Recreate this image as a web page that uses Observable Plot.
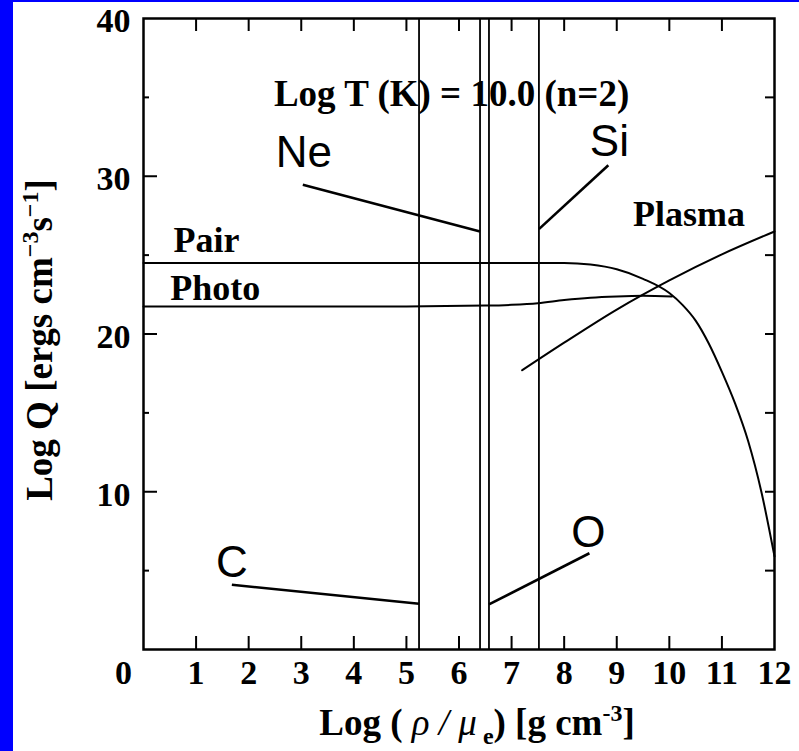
<!DOCTYPE html>
<html><head><meta charset="utf-8">
<script src="https://cdn.jsdelivr.net/npm/d3@7"></script>
<script src="https://cdn.jsdelivr.net/npm/@observablehq/plot@0.6"></script>
<style>
html,body{margin:0;padding:0;background:#0000ff;width:799px;height:751px;overflow:hidden}
#chart{position:absolute;left:13px;top:2px;width:786px;height:749px;background:#fff}
#chart svg{display:block;background:#fff;overflow:visible}
</style></head><body><div id="chart"></div>
<script>
// ---- data ----
const pairX = [0, 8, 8.5, 9, 9.5, 10, 10.25, 10.5, 10.75, 11, 11.25, 11.5, 11.75, 12];
const pairY = [24.5, 24.5, 24.4, 24.1, 23.5, 22.6, 21.85, 20.85, 19.4, 17.6, 15.6, 13.2, 10.0, 5.9];
const photoX = [0, 5, 6.5, 7, 7.5, 8, 8.5, 9, 9.5, 10.05];
const photoY = [21.75, 21.75, 21.8, 21.85, 21.95, 22.15, 22.3, 22.38, 22.42, 22.38];
const plasmaX = [7.2, 8, 9, 10, 11, 12];
const plasmaY = [17.7, 19.45, 21.55, 23.4, 25.05, 26.5];

const elements = ["C", "Ne", "O", "Si"];
const elementRho = [5.24, 6.40, 6.57, 7.52];
const elementLabelX = [1.68, 3.05, 8.46, 8.86];
const elementLabelY = [5.46, 31.45, 7.37, 32.2];
const leaderX = [1.68, 3.03, 8.48, 8.84];
const leaderY = [4.1, 29.46, 6.1, 30.7];
const leaderEndY = [2.9, 26.5, 2.86, 26.65];

const curveNames = ["Pair", "Photo", "Plasma"];
const curveLabelX = [0.57, 0.51, 9.31];
const curveLabelY = [25.95, 22.9, 27.6];

const annotation = "Log T (K) = 10.0 (n=2)";
const annotationX = 2.48, annotationY = 35.2;

const xTickLabels = [1,2,3,4,5,6,7,8,9,10,11,12];
const xZeroLabel = [0];
const xInnerTicks = [1,2,3,4,5,6,7,8,9,10,11];
const yTickLabels = [10, 20, 30, 40];
const yMajorTicks = [10, 20, 30];
const yMinorTicks = [5, 15, 25, 35];
const yRightTicks = [5, 10, 15, 20, 25, 30, 35];
const xTitle = "Log ( ρ / μe) [g cm-3]";
const yTitle = "Log Q [ergs cm-3s-1]";

// ---- tables ----
const toRows = (xs, ys) => xs.map((x, i) => ({x, y: ys[i]}));
const pair = toRows(pairX, pairY);
const photo = toRows(photoX, photoY);
const plasma = toRows(plasmaX, plasmaY);
const elems = elements.map((e, i) => ({e, rho: elementRho[i], lx: elementLabelX[i], ly: elementLabelY[i], x1: leaderX[i], y1: leaderY[i], y2: leaderEndY[i]}));
const curveLabels = curveNames.map((n, i) => ({n, x: curveLabelX[i], y: curveLabelY[i]}));

const serif = "'Liberation Serif', 'Times New Roman', serif";
const sans = "'Liberation Sans', Arial, sans-serif";
const tickFont = {fontFamily: serif, fontWeight: "bold", fontSize: 34, fill: "#000"};
const blank = () => "";

const chart = Plot.plot({
  width: 786, height: 749,
  marginLeft: 130, marginRight: 25, marginTop: 16, marginBottom: 102,
  x: {domain: [0, 12]},
  y: {domain: [0, 40]},
  style: {background: "#fff", color: "#000", fontFamily: serif, overflow: "visible"},
  marks: [
    Plot.text([annotation], {x: annotationX, y: annotationY, text: d => d, textAnchor: "start", fontFamily: serif, fontWeight: "bold", fontSize: 37, fill: "#000"}),
    Plot.text(curveLabels, {x: "x", y: "y", text: "n", textAnchor: "start", fontFamily: serif, fontWeight: "bold", fontSize: 36, fill: "#000"}),
    Plot.line(pair, {x: "x", y: "y", curve: "monotone-x", stroke: "#000", strokeWidth: 2}),
    Plot.line(photo, {x: "x", y: "y", curve: "monotone-x", stroke: "#000", strokeWidth: 2}),
    Plot.line(plasma, {x: "x", y: "y", curve: "monotone-x", stroke: "#000", strokeWidth: 2}),
    Plot.ruleX(elems, {x: "rho", stroke: "#000", strokeWidth: 1.8}),
    Plot.link(elems, {x1: "x1", y1: "y1", x2: "rho", y2: "y2", stroke: "#000", strokeWidth: 2.6}),
    Plot.text(elems, {x: "lx", y: "ly", text: "e", fontFamily: sans, fontSize: 44, fill: "#000"}),
    // ticks (inward): outward ticks shifted into the frame
    Plot.axisX({anchor: "bottom", ticks: xInnerTicks, tickSize: 13, dy: -13, tickFormat: blank, label: null, strokeWidth: 2}),
    Plot.axisX({anchor: "top", ticks: xInnerTicks, tickSize: 12, dy: 12, tickFormat: blank, label: null, strokeWidth: 2}),
    Plot.axisY({anchor: "left", ticks: yMajorTicks, tickSize: 14, dx: 14, tickFormat: blank, label: null, strokeWidth: 2}),
    Plot.axisY({anchor: "left", ticks: yMinorTicks, tickSize: 6, dx: 6, tickFormat: blank, label: null, strokeWidth: 2}),
    Plot.axisY({anchor: "right", ticks: yRightTicks, tickSize: 10, dx: -10, tickFormat: blank, label: null, strokeWidth: 2}),
    // tick labels
    Plot.axisX({anchor: "bottom", ticks: xTickLabels, tickSize: 0, tickPadding: 10, label: null, ...tickFont}),
    Plot.axisX({anchor: "bottom", ticks: xZeroLabel, tickSize: 0, tickPadding: 10, dx: -20, label: null, ...tickFont}),
    Plot.axisY({anchor: "left", ticks: yTickLabels, tickSize: 0, tickPadding: 13, dy: 3, label: null, ...tickFont}),
    // axis titles
    Plot.text([xTitle], {frameAnchor: "bottom", textAnchor: "middle", lineAnchor: "middle", dy: 74, dx: 18, text: d => d, fontFamily: serif, fontWeight: "bold", fontSize: 37, fill: "#000"}),
    Plot.text([yTitle], {frameAnchor: "left", textAnchor: "middle", lineAnchor: "middle", dx: -103, dy: 6, rotate: -90, text: d => d, fontFamily: serif, fontWeight: "bold", fontSize: 37, fill: "#000"}),
    Plot.frame({stroke: "#000", strokeWidth: 2.5})
  ]
});
document.getElementById("chart").append(chart);

// rich formatting of axis titles (sub/superscripts)
function rich(content, parts) {
  const t = d3.select(chart).selectAll("text").filter(function() { return this.textContent === content; });
  t.text(null);
  let shift = 0;
  for (const p of parts) {
    const ts = t.append("tspan").text(p.t);
    const target = p.dy || 0;
    if (target !== shift) { ts.attr("dy", target - shift); shift = target; }
    if (p.size) ts.attr("font-size", p.size);
    if (p.style) ts.attr("font-style", p.style);
    if (p.weight) ts.attr("font-weight", p.weight);
  }
}
rich(xTitle, [
  {t: "Log ( "},
  {t: "ρ / μ", style: "italic", weight: "normal"},
  {t: " e", size: 24, dy: 9},
  {t: ") [g cm"},
  {t: "-3", size: 24, dy: -14},
  {t: "]"}
]);
rich(yTitle, [
  {t: "Log Q [ergs cm"},
  {t: "−3", size: 24, dy: -14},
  {t: "s"},
  {t: "−1", size: 24, dy: -14},
  {t: "]"}
]);
</script></body></html>
